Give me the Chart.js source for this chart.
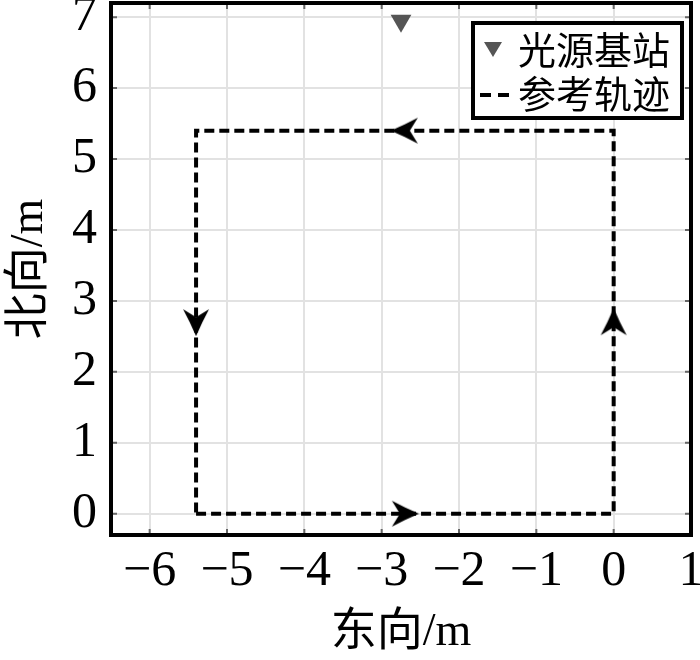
<!DOCTYPE html>
<html>
<head>
<meta charset="utf-8">
<script src="https://cdn.jsdelivr.net/npm/chart.js@4.4.1/dist/chart.umd.min.js"></script>
<style>
  html, body { margin: 0; padding: 0; background: #fff; overflow: hidden; }
</style>
</head>
<body>
<canvas id="grafico" width="700" height="660"></canvas>
<script>
// trajetoria de referencia (retangulo percorrido no sentido anti-horario)
const trajetoX = [-5.4, 0, 0, -5.4, -5.4];
const trajetoY = [0, 0, 5.4, 5.4, 0];

// setas de direcao no meio de cada lado
const setaX = [-2.7, 0, -2.7, -5.4];
const setaY = [0, 2.7, 5.4, 2.7];
const setaAngulo = [90, 0, -90, 180];

// posicao da estacao base (fonte de luz)
const baseX = [-2.75];
const baseY = [6.95];

const ticksX = [-6, -5, -4, -3, -2, -1, 0, 1];
const ticksY = [0, 1, 2, 3, 4, 5, 6, 7];

const legendaTextos = ['光源基站', '参考轨迹'];

const fonteNum = '"Liberation Serif", "Noto Sans CJK SC", serif';

// desenha a ponta de seta (apontando para cima) num canvas pequeno
function criarSeta() {
    const c = document.createElement('canvas');
    c.width = 28;
    c.height = 28;
    const g = c.getContext('2d');
    g.fillStyle = '#000';
    g.beginPath();
    g.moveTo(14, 0);
    g.quadraticCurveTo(20, 14, 27, 27);
    g.lineTo(14, 19);
    g.lineTo(1, 27);
    g.quadraticCurveTo(8, 14, 14, 0);
    g.closePath();
    g.fill();
    return c;
}

const setaImg = criarSeta();

// moldura, marcas internas dos ticks e legenda dentro do grafico
const molduraPlugin = {
    id: 'moldura',
    afterDraw(chart) {
        const ctx = chart.ctx;
        const a = chart.chartArea;
        const sx = chart.scales.x;
        const sy = chart.scales.y;
        ctx.save();

        // marcas internas
        ctx.strokeStyle = '#666';
        ctx.lineWidth = 2;
        ticksX.forEach(v => {
            const px = sx.getPixelForValue(v);
            ctx.beginPath();
            ctx.moveTo(px, a.bottom); ctx.lineTo(px, a.bottom - 6);
            ctx.moveTo(px, a.top); ctx.lineTo(px, a.top + 6);
            ctx.stroke();
        });
        ticksY.forEach(v => {
            const py = sy.getPixelForValue(v);
            ctx.beginPath();
            ctx.moveTo(a.left, py); ctx.lineTo(a.left + 6, py);
            ctx.moveTo(a.right, py); ctx.lineTo(a.right - 6, py);
            ctx.stroke();
        });

        // moldura
        ctx.strokeStyle = '#000';
        ctx.lineWidth = 4;
        ctx.strokeRect(a.left, a.top, a.right - a.left, a.bottom - a.top);

        // legenda
        const lx = 473, ly = 23, lw = 209, lh = 95;
        ctx.fillStyle = '#fff';
        ctx.fillRect(lx, ly, lw, lh);
        ctx.lineWidth = 4;
        ctx.strokeRect(lx, ly, lw, lh);

        // marcador triangulo
        ctx.fillStyle = '#555';
        ctx.beginPath();
        ctx.moveTo(484, 42);
        ctx.lineTo(502, 42);
        ctx.lineTo(493, 57);
        ctx.closePath();
        ctx.fill();

        // amostra tracejada
        ctx.strokeStyle = '#000';
        ctx.lineWidth = 4;
        ctx.setLineDash([11, 7]);
        ctx.beginPath();
        ctx.moveTo(480, 95);
        ctx.lineTo(510, 95);
        ctx.stroke();
        ctx.setLineDash([]);

        ctx.fillStyle = '#000';
        ctx.font = '38px "Noto Sans CJK SC"';
        ctx.textAlign = 'left';
        ctx.textBaseline = 'middle';
        ctx.fillText(legendaTextos[0], 518, 50);
        ctx.fillText(legendaTextos[1], 518, 94);

        ctx.restore();
    }
};

const dadosTrajeto = trajetoX.map((x, i) => ({ x: x, y: trajetoY[i] }));
const dadosSeta = setaX.map((x, i) => ({ x: x, y: setaY[i] }));
const dadosBase = baseX.map((x, i) => ({ x: x, y: baseY[i] }));

function rotuloNum(v) {
    return v < 0 ? '\u2212' + Math.abs(v) : String(v);
}

const config = {
    type: 'scatter',
    data: {
        datasets: [
            {
                label: legendaTextos[0],
                data: dadosBase,
                pointStyle: 'triangle',
                pointRotation: 180,
                pointRadius: 12,
                backgroundColor: '#555',
                borderWidth: 0
            },
            {
                label: legendaTextos[1],
                data: dadosTrajeto,
                showLine: true,
                borderColor: '#000',
                borderWidth: 4,
                borderDash: [10, 5],
                pointRadius: 0,
                fill: false
            },
            {
                label: 'setas',
                data: dadosSeta,
                pointStyle: setaImg,
                pointRotation: setaAngulo,
                pointRadius: 14
            }
        ]
    },
    options: {
        responsive: false,
        animation: false,
        layout: {
            autoPadding: false,
            padding: { top: 3, right: 9, left: 0, bottom: 0 }
        },
        plugins: {
            legend: { display: false },
            tooltip: { enabled: false }
        },
        scales: {
            x: {
                type: 'linear',
                min: -6.5,
                max: 1,
                afterBuildTicks: s => { s.ticks = ticksX.map(v => ({ value: v })); },
                afterFit: s => {
                    s.height = 125;
                    s.paddingLeft = 0;
                    s.paddingRight = 0;
                },
                border: { display: false },
                grid: { color: '#e2e2e2', lineWidth: 2, drawTicks: false },
                ticks: {
                    color: '#000',
                    padding: 7,
                    maxRotation: 0,
                    autoSkip: false,
                    font: { family: fonteNum, size: 50, lineHeight: 1.2 },
                    callback: v => rotuloNum(v)
                },
                title: {
                    display: true,
                    text: '东向/m',
                    color: '#000',
                    padding: { top: 0, bottom: 4 },
                    font: { family: fonteNum, size: 46, lineHeight: 1 }
                }
            },
            y: {
                type: 'linear',
                min: -0.3,
                max: 7.2,
                afterBuildTicks: s => { s.ticks = ticksY.map(v => ({ value: v })); },
                afterFit: s => {
                    s.width = 111;
                    s.paddingTop = 0;
                    s.paddingBottom = 0;
                },
                border: { display: false },
                grid: { color: '#e2e2e2', lineWidth: 2, drawTicks: false },
                ticks: {
                    color: '#000',
                    padding: 14,
                    autoSkip: false,
                    font: { family: fonteNum, size: 50, lineHeight: 1.2 },
                    callback: v => rotuloNum(v)
                },
                title: {
                    display: true,
                    text: '北向/m',
                    color: '#000',
                    padding: { top: 7, bottom: 0 },
                    font: { family: fonteNum, size: 46, lineHeight: 1 }
                }
            }
        }
    },
    plugins: [molduraPlugin]
};

const ctx = document.getElementById('grafico').getContext('2d');
const grafico = new Chart(ctx, config);
</script>
</body>
</html>
